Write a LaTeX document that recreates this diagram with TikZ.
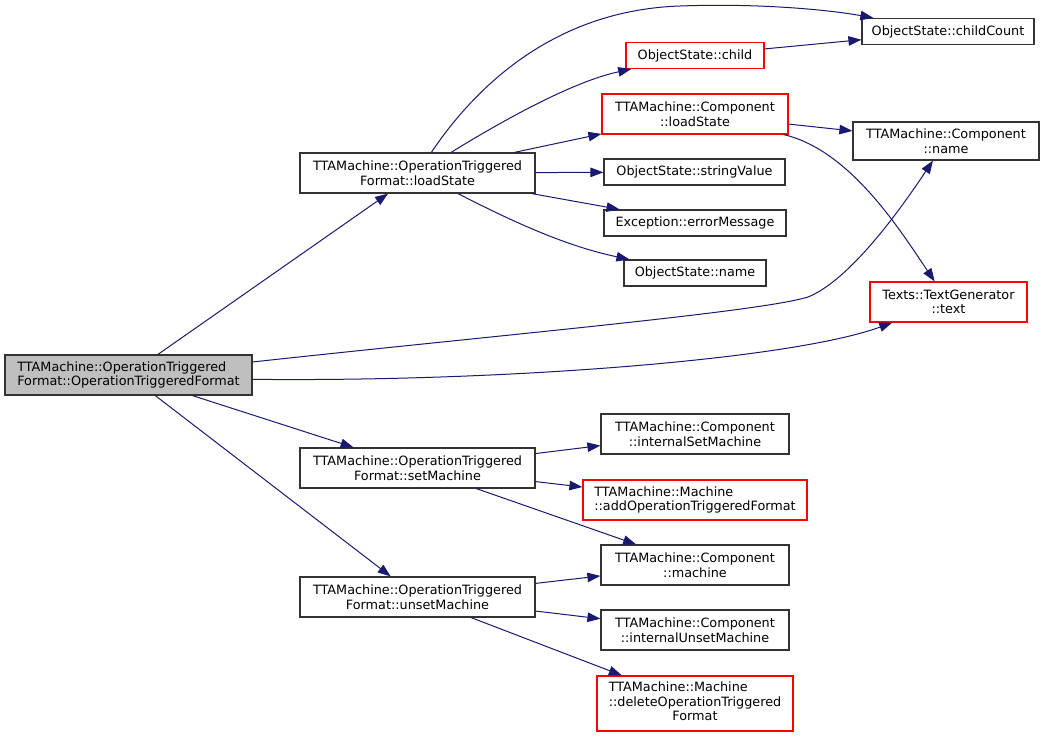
\documentclass[tikz,border=0pt]{standalone}
\usepackage{fontspec}
\setmainfont{DejaVu Sans}
\usetikzlibrary{arrows.meta}
\definecolor{edgeblue}{HTML}{191970}
\definecolor{boxgray}{HTML}{BFBFBF}

\begin{document}
\begin{tikzpicture}
  [x=1pt,y=-1pt,every node/.style={draw=black!80,line width=1.2pt,rectangle,align=center,inner sep=0pt,minimum height=26,font=\fontsize{12.8}{14.5}\selectfont}]
  \tikzstyle{call} = [draw=edgeblue,line width=1pt,-{Triangle[length=13pt,width=9.5pt,fill=edgeblue]}]
  \tikzstyle{redbox} = [draw=red]
  \useasboundingbox (0,0) rectangle (1047,737);
  \node[fill=boxgray,align=left,minimum width=247,minimum height=40] (main) at (128.5,375) {TTAMachine::OperationTriggered\\Format::OperationTriggeredFormat};
  \node[minimum width=235,minimum height=40] (load) at (417.5,173) {TTAMachine::OperationTriggered\\Format::loadState};
  \node[minimum width=172] (cnt) at (948,31.5) {ObjectState::childCount};
  \node[redbox,minimum width=138] (child) at (695,55.5) {ObjectState::child};
  \node[redbox,minimum width=186,minimum height=40] (cload) at (695,114) {TTAMachine::Component\\::loadState};
  \node[minimum width=186,minimum height=38] (cname) at (946,141) {TTAMachine::Component\\::name};
  \node[minimum width=181] (sval) at (694.5,172) {ObjectState::stringValue};
  \node[minimum width=182] (err) at (695,223) {Exception::errorMessage};
  \node[minimum width=142] (oname) at (695,273) {ObjectState::name};
  \node[redbox,minimum width=157,minimum height=40] (text) at (948.5,302) {Texts::TextGenerator\\::text};
  \node[minimum width=235,minimum height=40] (set) at (417.5,468) {TTAMachine::OperationTriggered\\Format::setMachine};
  \node[minimum width=188,minimum height=40] (iset) at (695,434) {TTAMachine::Component\\::internalSetMachine};
  \node[redbox,align=left,minimum width=224,minimum height=40] (add) at (695,500) {TTAMachine::Machine\\::addOperationTriggeredFormat};
  \node[minimum width=188,minimum height=40] (mach) at (695,565) {TTAMachine::Component\\::machine};
  \node[minimum width=235,minimum height=40] (unset) at (417.5,597) {TTAMachine::OperationTriggered\\Format::unsetMachine};
  \node[minimum width=188,minimum height=40] (iunset) at (695,630) {TTAMachine::Component\\::internalUnsetMachine};
  \node[redbox,minimum width=196,minimum height=55] (del) at (695,703.5) {\begin{tabular}{@{}l@{}}TTAMachine::Machine\\::deleteOperationTriggered\\\multicolumn{1}{@{}c@{}}{Format}\end{tabular}};
\foreach \from /\to in {main/load,main/set,main/unset,load/cload,load/sval,load/err,child/cnt,cload/cname,set/iset,set/add,set/mach,unset/mach,unset/iunset,unset/del}
   \draw[call] (\from) -- (\to);
  \draw[call] (load) .. controls (480,80) and (560,10) .. (680,6) .. controls (760,3) and (830,10) .. (cnt);
  \draw[call] (load) .. controls (520,110) and (580,80) .. (child);
  \draw[call] (load) .. controls (500,215) and (560,245) .. (oname);
  \draw[call] (cload) .. controls (850,150) and (900,230) .. (text);
  \draw[call] (main.6) .. controls (500,335) and (760,312) .. (808,297) .. controls (850,280) and (900,210) .. (cname);
  \draw[call] (main.-2) .. controls (500,382) and (790,360) .. (text);
\end{tikzpicture}
\end{document}
